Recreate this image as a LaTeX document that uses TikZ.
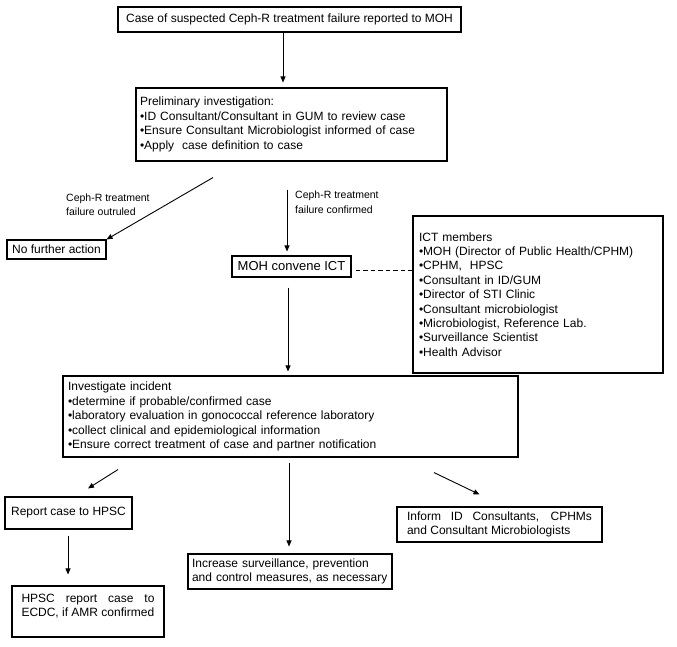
\documentclass[tikz,border=0pt]{standalone}
\usepackage{fontspec}
\setmainfont{Liberation Sans}
\usetikzlibrary{arrows.meta}
\begin{document}
\begin{tikzpicture}[x=1pt,y=-1pt,
  box/.style={draw, line width=1.1pt, inner sep=0pt, font=\fontsize{12}{14.5}\selectfont},
  arr/.style={-{Triangle[length=6pt,width=5pt]}, line width=0.9pt},
  lbl/.style={font=\fontsize{10.5}{14.5}\selectfont, align=left, inner sep=0pt}]
\useasboundingbox (0,0) rectangle (677,647);
\fill[white] (0,0) rectangle (677,647);

\node[box, minimum width=343pt, minimum height=25pt] (b1) at (289.5,19.5)
  {Case of suspected Ceph-R treatment failure reported to MOH};
\node[box, minimum width=311pt, minimum height=73pt, text width=303pt, align=left] (b2) at (291.5,124.5)
  {Preliminary investigation:\\
   •ID Consultant/Consultant in GUM to review case\\
   •Ensure Consultant Microbiologist informed of case\\
   •Apply\ \ case definition to case};
\node[box, minimum width=99pt, minimum height=19pt] (nfa) at (56.5,249.5) {No further action};
\node[box, minimum width=119pt, minimum height=21pt, font=\fontsize{13}{15}\selectfont] (moh) at (291.5,266.5) {MOH convene ICT};
\node[box, minimum width=250pt, minimum height=157pt, text width=238pt, align=left, font=\fontsize{12}{14.4}\selectfont] (ict) at (538,294.5)
  {ICT members\\
   •MOH (Director of Public Health/CPHM)\\
   •CPHM,\ \ HPSC\\
   •Consultant in ID/GUM\\
   •Director of STI Clinic\\
   •Consultant microbiologist\\
   •Microbiologist, Reference Lab.\\
   •Surveillance Scientist\\
   •Health Advisor};
\node[box, minimum width=455pt, minimum height=81pt, text width=445pt, align=left] (inv) at (290.5,416.5)
  {Investigate incident\\
   •determine if probable/confirmed case\\
   •laboratory evaluation in gonococcal reference laboratory\\
   •collect clinical and epidemiological information\\
   •Ensure correct treatment of case and partner notification};
\node[box, minimum width=127pt, minimum height=32pt] (rep) at (68.5,513) {Report case to HPSC};
\node[box, minimum width=152pt, minimum height=51pt] (hpsc) at (88,611.5)
  {\raisebox{5.5pt}[\height][\depth]{\parbox{133pt}{\baselineskip=14.5pt HPSC report case to\linebreak ECDC, if AMR confirmed}}};
\node[box, minimum width=204pt, minimum height=35pt, text width=196pt, align=left] (inc) at (290,571.5)
  {Increase surveillance, prevention\\and control measures, as necessary};
\node[box, minimum width=205pt, minimum height=35pt, text width=185pt, align=justify] (inform) at (499.5,524.5)
  {Inform ID Consultants, CPHMs\linebreak and Consultant Microbiologists};

\node[lbl, anchor=west] (lout) at (66,204.5) {Ceph-R treatment\\failure outruled};
\node[lbl, anchor=west] (lconf) at (295,202) {Ceph-R treatment\\failure confirmed};

\draw[arr, shorten >=5pt] ([xshift=-6.5pt]b1.south) -- ([xshift=-8.5pt]b2.north);
\draw[arr] ([xshift=-78.5pt,yshift=-16pt]b2.south) -- (nfa.north east);
\draw[arr, shorten >=4pt] ([xshift=-4.5pt,yshift=-28pt]b2.south) -- ([xshift=-4.5pt]moh.north);
\draw[dash pattern=on 4.5pt off 3pt, line width=0.8pt] ([xshift=4pt,yshift=-3.5pt]moh.east) -- ([yshift=-3.5pt]moh.east -| ict.west);
\draw[arr, shorten >=4pt, shorten <=10pt] ([xshift=-3.5pt]moh.south) -- ([xshift=-2.5pt]inv.north);
\draw[arr] ([xshift=-172.5pt,yshift=-12pt]inv.south) -- ([xshift=19.5pt,yshift=8pt]rep.north);
\draw[arr] ([xshift=-1.5pt,yshift=-5pt]inv.south) -- ([xshift=-1pt,yshift=7pt]inc.north);
\draw[arr] ([xshift=143.5pt,yshift=-15pt]inv.south) -- ([xshift=-20pt,yshift=12pt]inform.north);
\draw[arr] ([xshift=-0.5pt,yshift=-6pt]rep.south) -- ([xshift=-20pt,yshift=11pt]hpsc.north);
\end{tikzpicture}
\end{document}
